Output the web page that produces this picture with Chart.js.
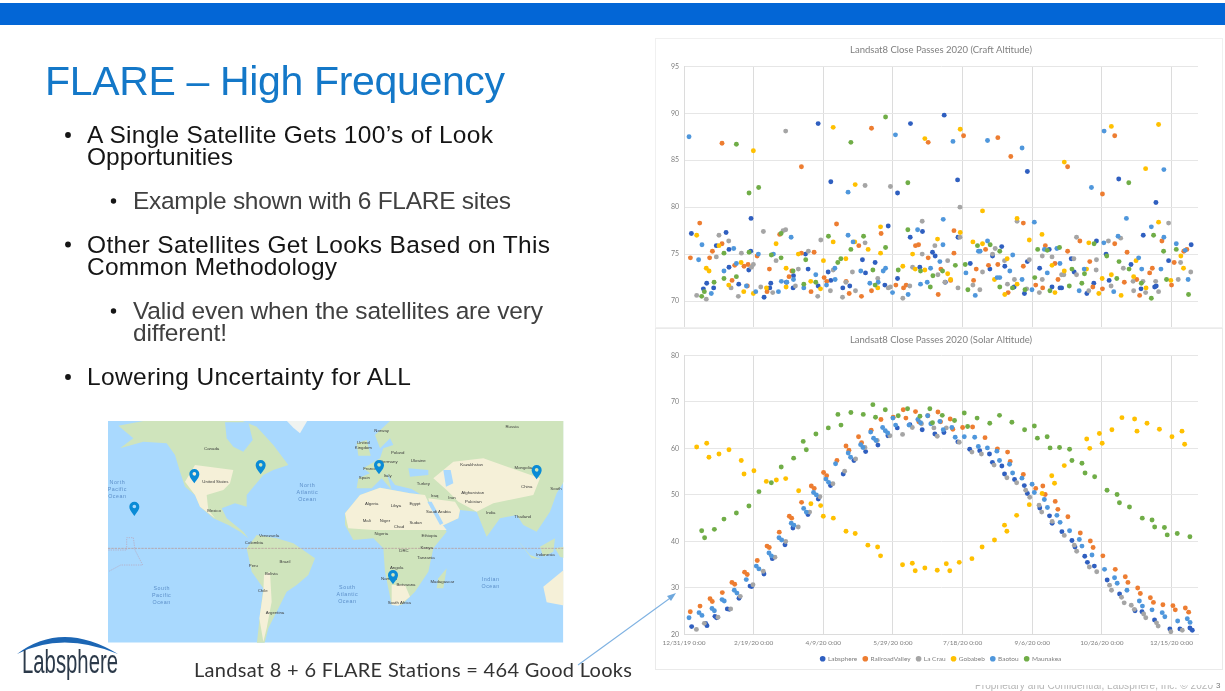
<!DOCTYPE html>
<html><head><meta charset="utf-8">
<script src="https://cdn.jsdelivr.net/npm/chart.js@4"></script>
<style>
html,body{margin:0;padding:0;background:#fff;width:1225px;height:691px;overflow:hidden}
#slide{position:absolute;left:0;top:0;width:1225px;height:691px;filter:blur(0.6px)}
#slide>*{position:absolute}
#bar{left:0;top:3px;width:1225px;height:22px;background:#0366D6}
#panel1{left:655px;top:38px;width:568px;height:290px;border:1px solid #F0F0F0;background:#fff;overflow:hidden;box-sizing:border-box}
#panel2{left:655px;top:328px;width:568px;height:342px;border:1px solid #EAEAEA;background:#fff;overflow:hidden;box-sizing:border-box}
canvas{display:block;position:absolute;left:0;top:0}
</style></head><body>
<script>
const tickLabels=["12/31/19 0:00","2/19/20 0:00","4/9/20 0:00","5/29/20 0:00","7/18/20 0:00","9/6/20 0:00","10/26/20 0:00","12/15/20 0:00"];
const seriesNames=["Labsphere","RailroadValley","La Crau","Gobabeb","Baotou","Maunakea"];
const seriesColors=["#2F5FC0","#ED7D31","#A5A5A5","#FFC000","#4F97DC","#70AD47"];

const craftLabsphereDays=[5.3,13.9,16.3,21.3,23.2,30.2,32.3,32.3,39.3,46.5,48.1,47.9,57.5,62.3,61.6,73.5,78.3,78.6,87.2,89.1,96.3,96.3,103.5,105.4,105.4,114,119,128.1,130.3,137.2,144.2,146.6,153.3,153.3,162.6,162.4,169.3,171.2,178.4,180.3,186.8,196.4,196.7,187.6,205.5,219.6,221.5,228.1,230.3,237,246.5,246.5,244.4,255.3,262.2,264.2,269.9,271.1,278,280.1,289.2,294.2,296.1,303,305.2,312.1,320.9,329.7,338.8,337.9,339,347.9,328.1,364.1];
const craftLabsphereAlt=[77.2,71.3,71.9,71.4,75.9,77.3,75.5,73.6,71.8,73.3,78.8,75.3,70.4,71.9,71.4,72,71.4,72.7,75,73.4,88.9,71.6,73.1,82.7,72.2,71.4,71.6,74.4,73,74.1,71.7,78,81.5,72.4,88.9,76.8,73.6,77.4,75.2,74.8,89.8,82.9,76.8,72,74,73.4,74.8,75.8,73.7,71.5,83.8,74.2,70.8,73.5,75.5,71.5,71.4,71.4,74.5,73.1,70.8,71.9,76.4,75,72.2,83,73.9,77,80.5,71.5,71.6,74.3,71.3,76];
const craftRailroadDays=[4.6,11.3,18.4,20.4,27.3,27.3,34.5,36.4,43.1,45.5,46,52.5,59.6,61.3,68.7,75.4,77.4,84.3,84.3,93.4,91.2,100.6,102.5,109.5,116.4,118.6,125.5,127.4,134.6,134.6,141.5,152.1,157.6,159.5,166.2,168.4,175.3,175.3,182.5,184.4,200.7,193.8,193.8,191.4,207.9,209.8,216.5,218.6,225.3,225.3,234.6,232.7,243.6,243.6,252.5,257.5,259.4,266.3,268.5,275.4,275.4,284.2,291.3,293.5,300.4,300.4,309.2,309.2,316.1,318.1,325,327.1,334.3,336.2,343.1,350,351.9,358.8,361];
const craftRailroadAlt=[74.6,78.3,74.6,75.3,76.1,86.8,72.2,73.8,73.7,71.6,73.9,74.8,71,73.4,77.1,72.6,73.2,84.3,75.1,75.2,71,72.5,72.1,78.2,72.1,70.8,75.9,70.5,88.4,71.1,77.2,71.7,71.4,71.7,75.9,76,86.9,74.6,70.7,73.4,87.6,77.5,75.1,72.2,72.2,73.4,75.5,73.8,87.4,73.9,85.4,70.9,73.7,78.3,71.7,71.4,75.9,74,72.3,84.3,75.3,76.4,74.2,71.5,81.4,71.3,87.6,76.1,72,75.2,72.3,70.6,73,73.5,76.4,71.7,74.1,75.3,75.5];
const craftLaCrauDays=[9.1,16,23.2,25.1,32.1,33.8,39,41.2,49.8,48.4,57,55.1,63.7,66.1,73,73,71.1,80,82.1,89.3,98.2,96,105.1,107.1,113.8,116.2,120.9,123.1,130,130,139.1,146.6,148.2,148.2,157.1,162.1,164.1,171,171,180.1,182.3,187.3,189.3,198.1,196.7,198.1,207.4,212.4,214.3,221.5,223.4,230.1,232.2,237.2,239.1,246,247.9,257.2,255.1,257.2,264.2,271.1,272.7,279.9,281.8,281.8,290.6,296.1,295.9,304.7,306.6,313.5,315.4,322.4,322.8,329.5,331.4,338.6,340.7,347.9,354.8,356.5,363.8];
const craftLaCrauAlt=[70.6,70.2,74.7,77,76.4,71.4,70.5,75.1,73.9,73.6,77.4,71.5,70.9,74.3,88.1,77.6,77.5,71.6,73.4,75.3,76.5,70.5,71.1,73.3,70.4,72,73.1,71.1,82.3,76.2,72.4,71.4,82.2,71.5,70.3,71.6,73.6,78.5,75,75.9,72.8,72,74.3,80,71.4,76.8,71.7,71.2,73.1,75,75.6,74.3,71.8,72.3,78.5,71.3,74.4,74.8,70.9,72.3,74.7,72.8,72.8,74.5,72.8,76.8,71.1,74.4,73.3,76.4,71.6,76.7,73.5,72.1,71.1,72.1,70.9,72.1,71,78.3,72.3,74.1,73.1];
const craftGobabebDays=[9.1,16,18,25.1,32.1,41,42.9,49.8,49.8,59.2,66.1,73.3,73.3,82.1,91,98,100.1,107.1,107.1,116.2,122.6,122.9,132.2,139.1,141.1,141.1,157.1,164.1,166,172.9,172.9,182,198.3,198.3,189.3,191.4,207.4,214.3,214.3,222.9,232,230.3,239.1,239.1,247.9,257,264.2,266.3,273,273,289,290.6,297.8,300.2,306.8,306.8,313.8,322.8,324.5,331.4,331.7,340.7,340.7,349.5,356.7,358.6];
const craftGobabebAlt=[77,73.5,73.2,75.9,71.7,74.1,71,86,70.8,71.4,76.1,73.5,71.5,75,72.1,71.3,74.3,88.5,76.3,74.5,76.3,82.4,75.5,71.4,77.9,75.1,73.7,75,73.4,87.3,73.3,76.6,88.3,77.3,72.9,72.3,76.3,79.6,76.1,72.3,74.5,70.7,78.8,71.8,76.5,77.1,73.8,70.9,84.8,73.2,73.4,76.2,70.8,72.4,88.6,72.8,70.6,72.6,74.3,84.1,71.4,88.8,78.4,72.2,74.8,73.5];
const craftBaotouDays=[3.6,12.9,10.5,19.6,28.7,35.7,37.6,44.8,53.4,51.5,64.2,67.8,69.9,76.9,73.8,78.6,86,94.6,102.3,108.3,108.5,117.8,117.8,121.4,126.9,133.4,139.4,143,144.7,151.8,149.7,160.9,167.7,169.8,177,174.6,183.7,185.9,186.1,193.1,202.4,209.1,211.4,212.6,217.9,217.9,224.8,226.7,233.9,236,242.7,242.7,249.8,251.5,260.8,258.7,267.7,269.9,283.7,287.3,292.5,301.6,301.4,308.5,311.6,317.6,326.4,328.6,335.5,342.4,344.5,344.5,353.4,359.8,361.9];
const craftBaotouAlt=[87.5,76,74.4,70.8,73.2,75.6,74,71.6,75,71,75,71,72.1,76.8,72,72.3,71.4,72.8,71.7,73.5,72.3,81.6,77,76.3,73.2,71.9,72,73.2,73.5,87.7,70.9,70.7,77.6,71.8,73.5,72,74.2,76,78.7,87,73,70.6,75.3,75.3,87.1,76.4,72.5,72.5,73.2,74.9,72.3,86.3,71.2,78.4,73,75.5,75.6,74,71.1,73.4,82.1,88.1,76.2,71,76.9,78.8,74.6,73.4,77.9,73.4,84,76.8,76.1,75.4,72.3];
const craftMaunakeaDays=[12.7,14.6,21.6,28.7,28.7,37.6,37.6,46.7,46.7,53.6,62.7,69.7,69.7,78.3,86,87.4,94.6,103.7,110.4,112.6,119.8,119.8,128.9,135.6,137.2,144.7,144.7,153.8,160.7,160.7,169.8,176.8,178.7,185.6,194.8,201.9,203.8,210.7,219.8,226.7,226.7,235.8,244.8,251.8,253.9,260.8,262.7,269.6,276.6,278.5,285.6,287.5,294.4,303.5,310.7,312.3,319.3,319.5,328.3,337.1,335.5,344.3,346.4,353.4,362.2];
const craftMaunakeaAlt=[70.5,71,72,72.4,75.1,86.7,72.6,81.5,75.2,82.1,74.9,77.2,74.6,73.2,71.8,74.4,72,76.9,74.1,74.5,86.9,75.5,76.9,73.3,71.7,89.6,75.7,73.3,82.6,77.6,73.2,71.5,72.7,73.2,73.8,73.9,71.2,75.9,76,75.3,71.5,71.4,71.2,72.5,75.5,75.4,71.1,75.7,71.6,73.4,71.9,72.9,76.1,74.8,72.4,74.2,82.6,73.4,71.9,77,70.3,75.3,72.3,75.5,70.7];

const solarLabsphereDays=[5.5,15.5,16.5,22.2,23.4,31.1,32.5,39.5,47.4,48.6,57.4,63.4,72.5,78.2,89,96.4,105.2,114.3,122,130.4,139.2,146.4,153.1,162.2,171,180.1,186.6,196.6,205.1,212.3,219.3,221.4,228.2,230.1,237.3,244.3,246.5,255.4,262.4,264.3,271.3,278.5,280.7,287.7,289.6,294.6,303.8,312.7,323.8,328.8,337.8,348.8,356,363.2,364.9];
const solarLabsphereAlt=[21.7,22.4,21.9,23.9,23.6,25.5,25.4,27.8,30.4,30.3,33,36.3,39.3,42.9,45.8,49.1,52,54.5,57.4,59.3,60.7,62.7,64.4,65.1,64,63.1,63.4,61.4,59.8,59.5,58.8,57,56.2,54.5,53.3,52,50.3,47.2,45.5,43.9,42.1,40.2,38.8,36.8,35.5,34.7,31.7,28.7,25.1,24.9,23.1,21.2,21.2,21.4,20.9];
const solarRailroadDays=[4.5,11.5,18.7,20.3,27.5,34.4,36.4,43.5,45.4,52.6,59.6,61.2,68.4,75.6,77.3,84.4,91.4,93.5,100.2,102.4,109.8,116.3,118.4,125.3,127.5,134.4,141.4,150.2,157.4,159.3,166.2,168.6,175.1,182.3,184.2,191.1,193,200,207.2,216.1,225,232.3,234.2,243.6,252.5,257.6,259.3,266.5,268.4,275.6,284.5,291.7,293.7,300.7,309.6,316.8,318.7,325.7,327.6,334.8,337,343.8,351,352.7,359.9,362.3];
const solarRailroadAlt=[24.9,26.1,27.7,27.1,29,31.2,30.8,33.4,32.9,35.9,39,38.7,42,45.4,45,48.4,51.9,51.4,54.8,54.1,57.4,60.5,59.6,62.5,61.2,63.9,66.2,66.7,68.3,66.5,67.9,65.7,67,67.8,65.7,66.3,64.1,64.5,64.6,62.3,59.9,59.2,57.2,54.4,51.4,51.9,50.1,48.6,46.9,45.3,41.8,40.1,38.7,36.9,34,32.4,31.2,30,28.8,27.9,26.9,26.4,26.2,25.3,25.7,24.8];
const solarLaCrauDays=[8.9,14.6,24.4,33.5,40.4,49.5,56.9,65.3,73,82,90.2,97.6,106.9,115.3,123.2,129.9,138.7,147.8,156.9,163.9,170.5,179.4,181.8,188.3,197.6,206.7,213.5,222.6,231.8,238.8,245.3,248.2,254.9,256.8,264.3,273,280.2,281.9,291,296.3,305.5,306.9,314.1,316,321.1,323.3,330,331.5,339.2,340.4,349.5,357.7];
const solarLaCrauAlt=[21.1,22.4,23.7,25.5,28.2,30.7,33.6,36.6,40,43.1,46.3,49.6,52.4,55.1,57.7,60.2,61.7,62.7,63,64.5,65.3,64.4,62.6,64.4,61.3,59.2,58.8,56.4,53.7,52.6,51,49.5,47.8,46.3,44.3,41.3,39.2,37.9,34.5,33.5,30.6,29.5,28,26.8,26.3,25.4,24.4,23.6,22.5,21.8,20.6,20.9];
const solarGobabebDays=[9.1,16.3,17.9,25.1,32.3,41.1,43.1,50.2,59.1,66.3,73,82.3,91.1,98.1,100,107.2,116.3,122.9,132,139,141.1,156.9,163.9,166,172.9,181.8,188.3,190.8,197.6,206.7,214,222.9,230.1,231.8,238.8,247.9,257.1,264,266,273,289.1,291.3,298.2,300.2,307.2,314.4,323.5,325.2,332.4,341.3,350.3,357.5,359.4];
const solarGobabebAlt=[60.3,61.1,58.1,58.8,59.7,57.4,54.5,55.2,52.9,53.2,53.5,50.9,48.1,47.7,45.4,45,42.2,41.7,39.2,38.8,36.9,35,35.3,33.7,34.3,33.8,35.2,33.7,35.5,36.3,38.8,40.3,43.5,42.2,45.6,47.9,50.3,54.1,52.5,56.3,62,60,63.2,61.1,64,66.6,66.3,63.7,65.4,64.1,62.5,63.7,60.9];
const solarBaotouDays=[3.6,10.8,12.9,20.1,21.8,27.3,28.9,36.1,38,44.7,51.9,53.8,61,62.7,68.2,70.1,77,78.9,85.9,87.8,93,95,101.9,103.8,108.8,117.9,119.6,126.8,128.5,134,136.1,137.8,142.6,144.5,146.2,150,151.9,161.5,167.9,169.8,174.9,177.2,183.7,186.1,192.3,194.7,201.2,208.7,211.3,217.8,224.6,226.5,233.7,235.9,242.6,249.9,251.5,258.7,260.9,267.7,270,276.8,283.8,285.7,292.9,301.9,309.1,311,318,326.9,329.1,336,343.3,345.2,354.4,361.3,363.3];
const solarBaotouAlt=[23.6,24.7,24.1,25.6,25.1,27.5,27.2,29.5,28.9,31.8,34.7,34.1,37.5,36.9,40.8,40.3,43.9,43.5,47.1,46.3,50.5,50,53.4,52.7,56.7,59,58.1,60.8,60.2,63.5,62.2,61.7,64.5,63.8,63.3,66.5,65,65,66.2,65.5,67,65.3,65.8,64,64.5,62.4,62.5,62.4,60.4,60.1,59.4,57.4,56.6,54.7,53.6,52.3,50.5,49,47.3,45.6,44.1,42.3,40.4,39,37.1,34,32.2,31,29.5,27.2,26.1,25.3,24.7,23.8,22.9,23.4,22.6];
const solarMaunakeaDays=[12.7,14.8,21.8,28.7,37.6,46.6,53.8,62.7,69.8,78.7,85.6,87.8,94.7,103.6,110.5,112.7,119.8,128.7,135.6,137.5,144.5,153.8,160.5,169.4,176.5,178.4,185.4,194.2,201.2,203.6,210.4,219.5,226.5,235.4,244.5,251.5,253.7,260.7,262.8,269.6,276.8,278.5,285.7,287.9,294.8,303.7,310.9,312.6,319.8,329,336,337.9,344.9,346.9,354.1,363.2];
const solarMaunakeaAlt=[42.3,40.8,42.6,44.8,46.1,47.6,50.7,52.6,56,57.9,61.5,59.7,63.1,64.4,67.3,65,67.7,67.3,69.4,66.7,68.3,67,68.5,66.9,68.5,65.5,67.1,66,67.6,64.7,66.5,65.4,67.1,65.6,64,64.8,62.2,62.5,60.1,60.2,59.8,57.4,56.8,54.7,53.9,51,50.1,48.3,47.4,45,44.6,43.1,43,41.4,41.7,41];

const craftDays=[craftLabsphereDays,craftRailroadDays,craftLaCrauDays,craftGobabebDays,craftBaotouDays,craftMaunakeaDays];
const craftAlt=[craftLabsphereAlt,craftRailroadAlt,craftLaCrauAlt,craftGobabebAlt,craftBaotouAlt,craftMaunakeaAlt];
const solarDays=[solarLabsphereDays,solarRailroadDays,solarLaCrauDays,solarGobabebDays,solarBaotouDays,solarMaunakeaDays];
const solarAlt=[solarLabsphereAlt,solarRailroadAlt,solarLaCrauAlt,solarGobabebAlt,solarBaotouAlt,solarMaunakeaAlt];
</script>

<div id="slide">
<div id="bar"></div>

<svg style="left:0;top:0" width="640" height="691" viewBox="0 0 640 691" font-family="'Liberation Sans',Arial,sans-serif">
<text x="45" y="95" font-size="41" fill="#1478C8" textLength="460" lengthAdjust="spacing">FLARE – High Frequency</text>
<g font-size="24.5" fill="#151515">
<text x="87" y="143.3" textLength="406" lengthAdjust="spacing">A Single Satellite Gets 100’s of Look</text>
<text x="87" y="165" textLength="146" lengthAdjust="spacing">Opportunities</text>
<text x="87" y="253.3" textLength="463" lengthAdjust="spacing">Other Satellites Get Looks Based on This</text>
<text x="87" y="275" textLength="250" lengthAdjust="spacing">Common Methodology</text>
<text x="87" y="385" textLength="324" lengthAdjust="spacing">Lowering Uncertainty for ALL</text>
</g>
<g font-size="24.5" fill="#404040">
<text x="133" y="209.3" textLength="378" lengthAdjust="spacing">Example shown with 6 FLARE sites</text>
<text x="133" y="319.3" textLength="410" lengthAdjust="spacing">Valid even when the satellites are very</text>
<text x="133" y="341" textLength="94" lengthAdjust="spacing">different!</text>
</g>
<g fill="#151515">
<circle cx="68" cy="135" r="2.9"/><circle cx="68" cy="244.5" r="2.9"/><circle cx="68" cy="377" r="2.9"/>
<circle cx="113.5" cy="201" r="2.7"/><circle cx="113.5" cy="311" r="2.7"/>
</g>
<path d="M17 654 Q62 620 118 654 Q62 631 17 654Z" fill="#1C66B4"/>
<text x="22" y="673" font-family="'Liberation Sans Narrow','Liberation Sans',sans-serif" font-size="33" fill="#2C3A4A" textLength="96" lengthAdjust="spacingAndGlyphs">Labsphere</text>
<text x="194" y="677" font-family="Lato,'Open Sans',sans-serif" font-size="20" fill="#333" textLength="438" lengthAdjust="spacing">Landsat 8 + 6 FLARE Stations = 464 Good Looks</text>
</svg>

<svg style="left:100px;top:415px" width="470" height="235" viewBox="0 0 1410 705" font-family="'Liberation Sans',Arial,sans-serif">
<defs><clipPath id="mapClip"><rect x="24" y="18" width="1366" height="665"/></clipPath></defs>
<g clip-path="url(#mapClip)">
<rect x="24" y="18" width="1366" height="665" fill="#A9D9FE"/>
<g fill="#CFE4BC">
<path d="M55 32L130 18L420 15L470 35L520 90L565 150L520 165L490 180L440 240L440 275L405 265L365 280L380 310L430 350L445 370L420 350L385 330L340 310L300 275L285 240L255 215L240 170L225 120L200 85L130 80L60 100L100 70Z"/>
<path d="M555 12L625 12L600 55L580 38Z" fill="#F0F3F0"/>
<path d="M440 400L470 360L530 370L580 385L645 430L625 480L590 510L560 530L530 590L505 640L492 690L470 690L480 600L490 520L455 470Z"/>
<path d="M735 295L780 240L840 218L930 235L975 240L1000 290L1040 350L1000 400L985 470L945 530L905 570L875 570L855 470L850 400L820 370L760 375L735 330Z"/>
<path d="M825 60L870 18L1395 12L1395 195L1370 235L1350 290L1310 350L1270 330L1250 300L1200 310L1160 365L1130 290L1080 285L1075 310L1010 340L980 250L935 222L885 210L860 175L875 225L845 190L815 220L770 220L775 190L810 175L790 160L840 130L850 100L880 90L870 70L840 100Z"/>
<path d="M770 85L800 75L812 122L775 122Z"/>
<path d="M1250 372L1290 420L1322 432L1295 430ZM1320 395L1365 370L1360 410L1330 425ZM1365 400L1395 395L1395 430L1380 425Z"/>
<path d="M1015 490L1040 460L1030 520L1010 520Z"/>
<path d="M1330 515L1395 462L1395 572L1340 562Z" fill="#F5F0D8"/>
</g>
<g fill="#F5F0D8">
<path d="M255 200L285 150L400 165L390 205L370 225L320 240L325 285L345 310L300 275L285 240Z"/>
<path d="M735 295L780 240L840 218L930 235L975 240L1000 295L1040 345L960 345L820 345L745 340Z"/>
<path d="M985 250L1065 260L1080 285L1075 310L1010 340Z"/>
<path d="M1000 190L1060 140L1150 130L1320 190L1300 240L1180 265L1130 290L1075 260L1040 225Z"/>
<path d="M492 480L510 470L515 560L500 640L490 680L478 610L490 530Z"/>
<path d="M875 510L915 510L930 545L895 572L875 570Z"/>
</g>
<g fill="#A9D9FE">
<path d="M375 22L445 22L458 75L430 110L400 95L380 70Z"/>
<path d="M925 160L985 165L985 180L930 185Z"/>
<path d="M1030 165L1052 165L1060 205L1038 215Z"/>
<path d="M982 260L995 260L1030 325L1020 330Z"/>
</g>
<line x1="24" y1="400" x2="1390" y2="400" stroke="#B79A9A" stroke-width="2.4" stroke-dasharray="7 3"/>
<path d="M25 405L80 405L80 368L100 368L105 405L128 450L62 450L25 470" fill="none" stroke="#B9A3B8" stroke-width="2" stroke-dasharray="4 3"/>
<g font-size="13" fill="#3A3A3A" text-anchor="middle">
<text x="335" y="106">Canada</text><text x="346" y="205">United States</text><text x="342" y="292">Mexico</text><text x="507" y="366">Venezuela</text><text x="462" y="386">Colombia</text><text x="555" y="443">Brazil</text><text x="460" y="455">Peru</text><text x="514" y="481">Bolivia</text><text x="488" y="530">Chile</text><text x="525" y="597">Argentina</text>
<text x="845" y="50">Norway</text><text x="1236" y="39">Russia</text><text x="790" y="87">United</text><text x="790" y="102">Kingdom</text><text x="893" y="118">Poland</text><text x="866" y="144">Germany</text><text x="955" y="142">Ukraine</text><text x="810" y="166">France</text><text x="793" y="193">Spain</text><text x="863" y="185">Italy</text><text x="970" y="211">Turkey</text><text x="1115" y="152">Kazakhstan</text><text x="1270" y="161">Mongolia</text><text x="1280" y="219">China</text><text x="1056" y="252">Iran</text><text x="1004" y="245">Iraq</text><text x="1118" y="238">Afghanistan</text><text x="1120" y="265">Pakistan</text><text x="1172" y="297">India</text><text x="1015" y="293">Saudi Arabia</text>
<text x="815" y="270">Algeria</text><text x="888" y="276">Libya</text><text x="945" y="269">Egypt</text><text x="800" y="321">Mali</text><text x="855" y="322">Niger</text><text x="897" y="340">Chad</text><text x="947" y="326">Sudan</text><text x="844" y="360">Nigeria</text><text x="988" y="365">Ethiopia</text><text x="912" y="410">DRC</text><text x="980" y="401">Kenya</text><text x="978" y="433">Tanzania</text><text x="890" y="461">Angola</text><text x="867" y="494">Namibia</text><text x="918" y="513">Botswana</text><text x="898" y="566">South Africa</text><text x="1027" y="503">Madagascar</text><text x="1268" y="310">Thailand</text><text x="1336" y="422">Indonesia</text><text x="1368" y="226">South</text>
</g>
<g font-size="16" fill="#5C8FC9" text-anchor="middle" letter-spacing="1.5">
<text x="52" y="206">North</text><text x="52" y="227">Pacific</text><text x="52" y="248">Ocean</text>
<text x="622" y="215">North</text><text x="622" y="236">Atlantic</text><text x="622" y="257">Ocean</text>
<text x="185" y="525">South</text><text x="185" y="546">Pacific</text><text x="185" y="567">Ocean</text>
<text x="742" y="521">South</text><text x="742" y="542">Atlantic</text><text x="742" y="563">Ocean</text>
<text x="1172" y="497">Indian</text><text x="1172" y="519">Ocean</text>
</g>
<g fill="#0A8BD6">
<path id="pin" fill-rule="evenodd" d="M283 205C274 192 268 186 268 177A15 15 0 0 1 298 177C298 186 292 192 283 205ZM283 171A5.5 5.5 0 1 0 283.01 182A5.5 5.5 0 1 0 283 171Z"/>
<use href="#pin" transform="translate(199,-27)"/>
<use href="#pin" transform="translate(-180,98)"/>
<use href="#pin" transform="translate(554,-27)"/>
<use href="#pin" transform="translate(1027,-12)"/>
<use href="#pin" transform="translate(596,303)"/>
</g>
</g>
</svg>

<div id="panel1"><canvas id="c1" width="566" height="330"></canvas></div>
<div id="panel2"><canvas id="c2" width="566" height="346"></canvas></div>

<svg style="left:0;top:0" width="1225" height="691" viewBox="0 0 1225 691">
<defs><clipPath id="footClip"><rect x="960" y="685" width="265" height="6"/></clipPath></defs>
<line x1="578" y1="665" x2="673" y2="596" stroke="#7FB2E2" stroke-width="1.1"/>
<path d="M676 593L667 596L671 601Z" fill="#6FA8DD"/>
<text x="975" y="689" clip-path="url(#footClip)" font-family="'Liberation Sans',Arial,sans-serif" font-size="10" fill="#B5B5B5" textLength="238">Proprietary and Confidential, Labsphere, Inc. © 2020</text>
<text x="1216" y="688" font-family="'Liberation Sans',Arial,sans-serif" font-size="8" fill="#777">3</text>
</svg>
</div>

<script>
Chart.defaults.font.family="Lato,'Open Sans',sans-serif";
function makeDatasets(daysList,altList){
  return seriesNames.map((name,i)=>({
    label:name,
    data:daysList[i].map((d,k)=>({x:d,y:altList[i][k]})),
    backgroundColor:seriesColors[i],
    borderColor:seriesColors[i],
    pointRadius:2.45,
    pointBorderWidth:0,
    showLine:false,
    order:6-i
  }));
}
function makeOptions(title,cfg){
  return {
    responsive:false,animation:false,devicePixelRatio:1,
    events:[],
    layout:{padding:cfg.padding},
    plugins:{
      tooltip:{enabled:false},
      title:{display:true,text:title,fullSize:false,color:"#7F7F7F",font:{size:9.5,weight:"normal"},padding:cfg.titlePadding},
      legend:cfg.legend
    },
    scales:{
      x:{type:"linear",min:0,max:369,
        grid:{color:"#DCDCDC",lineWidth:1,drawTicks:false},
        border:{color:"#DCDCDC"},
        ticks:{display:cfg.xTicks,stepSize:50,includeBounds:false,autoSkip:false,maxRotation:0,color:"#7F7F7F",font:{size:6.5},padding:5,
          callback:(v)=>tickLabels[Math.round(v/50)]},
        afterFit:cfg.xFit
      },
      y:{type:"linear",min:cfg.yMin,max:cfg.yMax,
        grid:{color:"#E6E6E6",lineWidth:1,drawTicks:false},
        border:{color:"#DCDCDC"},
        ticks:{stepSize:cfg.yStep,color:"#7F7F7F",font:{size:7},padding:5},
        afterFit:s=>{s.width=cfg.yWidth;}
      }
    }
  };
}
new Chart(document.getElementById("c1"),{type:"scatter",
  data:{datasets:makeDatasets(craftDays,craftAlt)},
  options:makeOptions("Landsat8 Close Passes 2020 (Craft Altitude)",{
    padding:{left:0,right:24,bottom:21,top:0},
    titlePadding:{top:5.3,bottom:10.6},
    legend:{display:false},
    xTicks:false,xFit:s=>{s.height=0;},
    yMin:65,yMax:95,yStep:5,yWidth:28
  })});
new Chart(document.getElementById("c2"),{type:"scatter",
  data:{datasets:makeDatasets(solarDays,solarAlt)},
  options:makeOptions("Landsat8 Close Passes 2020 (Solar Altitude)",{
    padding:{left:0,right:24,bottom:3,top:0},
    titlePadding:{top:5,bottom:9.9},
    legend:{display:true,position:"bottom",fullSize:false,labels:{sort:(a,b)=>a.datasetIndex-b.datasetIndex,usePointStyle:true,pointStyle:"circle",boxWidth:4,boxHeight:4,padding:6,color:"#7F7F7F",font:{size:6.5}}},
    xTicks:true,xFit:s=>{s.height=15;},
    yMin:20,yMax:80,yStep:10,yWidth:28
  })});
</script>
</body></html>
